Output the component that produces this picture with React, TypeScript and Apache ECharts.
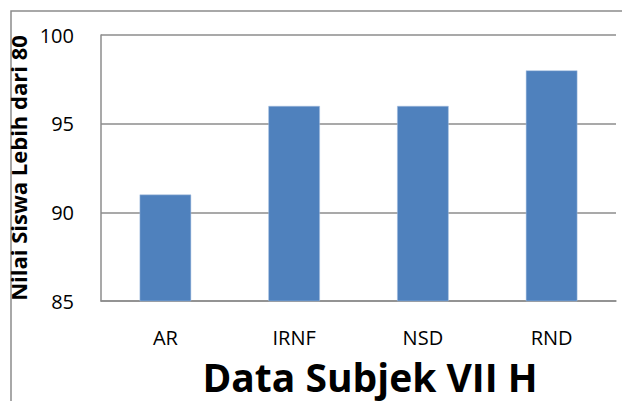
import React, { useEffect, useRef } from "react";
import * as echarts from "echarts";

const categories = ["AR", "IRNF", "NSD", "RND"];
const values = [91, 96, 96, 98];
const yTicks = { min: 85, max: 100, interval: 5 };
const xTitle = "Data Subjek VII H";
const yTitle = "Nilai Siswa Lebih dari 80";

export default function App() {
  const ref = useRef<HTMLDivElement>(null);
  useEffect(() => {
    const chart = echarts.init(ref.current!, null, { renderer: "svg" });
    const font = "'Open Sans', 'Noto Sans', sans-serif";
    chart.setOption({
      animation: false,
      backgroundColor: "#ffffff",
      graphic: [
        {
          type: "rect",
          shape: { x: 11, y: 11, width: 700, height: 500 },
          style: { fill: "none", stroke: "#8c8c8c", lineWidth: 1.5 },
          silent: true,
        },
        {
          type: "text",
          x: 370,
          y: 376,
          style: {
            text: xTitle,
            fill: "#000",
            font: `bold 39px ${font}`,
            textAlign: "center",
            textVerticalAlign: "middle",
          },
          silent: true,
        },
      ],
      grid: { left: 101, top: 35, right: 6, bottom: 100, outerBoundsMode: "none", containLabel: false },
      xAxis: {
        type: "category",
        data: categories,
        axisLine: { show: true, lineStyle: { color: "#8c8c8c", width: 1.5 } },
        axisTick: { show: false },
        axisLabel: { color: "#000", fontSize: 20, fontFamily: font, margin: 26 },
      },
      yAxis: {
        type: "value",
        min: yTicks.min,
        max: yTicks.max,
        interval: yTicks.interval,
        axisLine: { show: true, lineStyle: { color: "#8c8c8c", width: 1.5 } },
        axisTick: { show: false },
        splitLine: { show: true, lineStyle: { color: "#8c8c8c", width: 1.5 } },
        axisLabel: { color: "#000", fontSize: 20, fontFamily: font, margin: 27 },
        name: yTitle,
        nameLocation: "middle",
        nameRotate: 90,
        nameGap: 70,
        nameTextStyle: { color: "#000", fontSize: 22, fontWeight: "bold", fontFamily: font },
      },
      series: [
        {
          type: "bar",
          data: values,
          barWidth: "40%",
          itemStyle: { color: "#4F81BD", borderColor: "#a9c1e0", borderWidth: 0.5 },
        },
      ],
    });
    return () => chart.dispose();
  }, []);
  return <div ref={ref} style={{ width: 622, height: 401, position: "absolute", left: 0, top: 0 }} />;
}
